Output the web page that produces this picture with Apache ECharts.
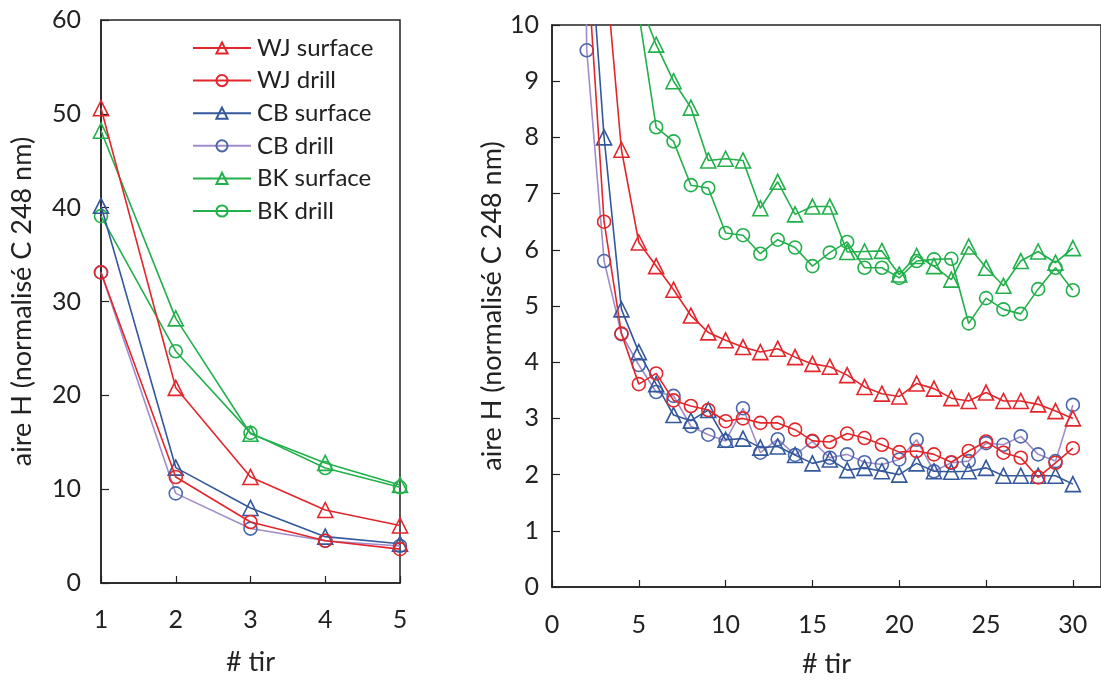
<!DOCTYPE html>
<html>
<head>
<meta charset="utf-8">
<script src="https://cdn.jsdelivr.net/npm/echarts@6/dist/echarts.min.js"></script>
<style>
html,body{margin:0;padding:0;background:#fff;}
#c{width:1101px;height:683px;}
</style>
</head>
<body>
<div id="c"></div>
<script>
// shot number (# tir)
const tirs = [1,2,3,4,5,6,7,8,9,10,11,12,13,14,15,16,17,18,19,20,21,22,23,24,25,26,27,28,29,30];
const seriesNames = ['WJ surface','WJ drill','CB surface','CB drill','BK surface','BK drill'];
const wjSurface = [50.6,20.8,11.3,7.78,6.13,5.71,5.29,4.83,4.53,4.39,4.27,4.18,4.24,4.09,3.97,3.92,3.77,3.56,3.44,3.39,3.62,3.53,3.36,3.31,3.46,3.31,3.31,3.25,3.13,3.0];
const wjDrill = [33.1,11.3,6.5,4.51,3.61,3.8,3.32,3.22,3.15,2.95,3.0,2.92,2.92,2.8,2.6,2.58,2.73,2.65,2.53,2.4,2.42,2.36,2.22,2.42,2.59,2.39,2.3,1.95,2.21,2.47];
const cbSurface = [40.2,12.3,8.0,4.94,4.18,3.61,3.06,2.96,3.15,2.62,2.64,2.48,2.5,2.35,2.2,2.27,2.08,2.12,2.06,2.0,2.2,2.06,2.05,2.06,2.12,1.98,1.98,1.98,1.98,1.83];
const cbDrill = [33.1,9.55,5.8,4.5,3.95,3.47,3.4,2.86,2.71,2.6,3.18,2.39,2.63,2.35,2.59,2.3,2.36,2.22,2.18,2.27,2.62,2.06,2.21,2.24,2.56,2.53,2.68,2.36,2.24,3.24];
const bkSurface = [48.2,28.2,15.9,12.8,10.45,9.65,9.0,8.53,7.59,7.62,7.59,6.74,7.21,6.63,6.77,6.77,5.96,5.97,5.98,5.56,5.89,5.71,5.47,6.06,5.68,5.36,5.8,5.97,5.77,6.03];
const bkDrill = [39.1,24.7,16.0,12.25,10.2,8.18,7.93,7.15,7.1,6.3,6.26,5.93,6.18,6.04,5.71,5.95,6.14,5.68,5.68,5.5,5.8,5.83,5.84,4.69,5.14,4.94,4.86,5.3,5.68,5.28];
const leftXTicks = [1,2,3,4,5];
const leftYTicks = [0,10,20,30,40,50,60];
const rightXTicks = [0,5,10,15,20,25,30];
const rightYTicks = [0,1,2,3,4,5,6,7,8,9,10];

const values = [wjSurface, wjDrill, cbSurface, cbDrill, bkSurface, bkDrill];
const symbols = ['triangle','circle','triangle','circle','triangle','circle'];
const markColors = ['#e3262b','#e3262b','#34589c','#4a67ad','#22b04b','#22b04b'];
const lineColors = ['#e3262b','#e3262b','#34589c','#a08cc8','#22b04b','#22b04b'];

const FONT = 'Lato';
const TXT = '#222';

function mkSeries(idx, gridIdx, n) {
  const data = [];
  for (let i = 0; i < n; i++) data.push([tirs[i], values[idx][i]]);
  return {
    name: seriesNames[idx],
    type: 'line',
    xAxisIndex: gridIdx,
    yAxisIndex: gridIdx,
    data: data,
    symbol: symbols[idx],
    symbolSize: symbols[idx] === 'triangle' ? 15 : 13,
    showAllSymbol: true,
    clip: true,
    animation: false,
    itemStyle: {color: 'rgba(255,255,255,0)', borderColor: markColors[idx], borderWidth: 1.6},
    lineStyle: {color: lineColors[idx], width: 1.6},
    emphasis: {disabled: true},
    z: 10 - idx
  };
}

const series = [];
for (let i = 0; i < 6; i++) series.push(mkSeries(i, 0, 5));
for (let i = 0; i < 6; i++) series.push(mkSeries(i, 1, 30));

function yAxisCfg(gridIdx, min, max, interval, nameGap, labelMargin) {
  return {
    type: 'value', gridIndex: gridIdx, min: min, max: max, interval: interval,
    name: 'aire H (normalisé C 248 nm)', nameLocation: 'middle', nameGap: nameGap,
    nameTextStyle: {fontFamily: FONT, fontSize: 27, color: TXT},
    axisLine: {show: true, lineStyle: {color: '#222', width: 1.5}},
    axisTick: {show: true, inside: true, length: 8, lineStyle: {color: '#222', width: 1.2}},
    axisLabel: {fontFamily: FONT, fontSize: 25, color: TXT, margin: labelMargin},
    splitLine: {show: false}
  };
}
function xAxisCfg(gridIdx, min, max, interval, nameGap, labelMargin, hideMax) {
  return {
    type: 'value', gridIndex: gridIdx, min: min, max: max, interval: interval,
    name: '# tir', nameLocation: 'middle', nameGap: nameGap,
    nameTextStyle: {fontFamily: FONT, fontSize: 27, color: TXT},
    axisLine: {show: true, lineStyle: {color: '#222', width: 1.5}},
    axisTick: {show: true, inside: true, length: 7, lineStyle: {color: '#222', width: 1.2}},
    axisLabel: {fontFamily: FONT, fontSize: 25, color: TXT, margin: labelMargin, showMaxLabel: hideMax ? false : true},
    splitLine: {show: false}
  };
}

const chart = echarts.init(document.getElementById('c'), null, {renderer: 'canvas'});
chart.setOption({
  backgroundColor: '#fff',
  animation: false,
  grid: [
    {left: 101, top: 20, width: 299, height: 563, show: true, borderColor: '#222', borderWidth: 1.5, backgroundColor: 'transparent'},
    {left: 552, top: 25, width: 549, height: 567, show: true, borderColor: '#222', borderWidth: 1.5, backgroundColor: 'transparent'}
  ],
  xAxis: [
    xAxisCfg(0, leftXTicks[0], leftXTicks[leftXTicks.length-1], 1, 66, 24, false),
    xAxisCfg(1, rightXTicks[0], 31.62, 5, 64, 25, true)
  ],
  yAxis: [
    yAxisCfg(0, leftYTicks[0], leftYTicks[leftYTicks.length-1], 10, 65, 20),
    yAxisCfg(1, rightYTicks[0], rightYTicks[rightYTicks.length-1], 1, 32, 13)
  ],
  legend: {
    show: true, orient: 'vertical', left: 192, top: 36, padding: 0,
    itemWidth: 58, itemHeight: 14, itemGap: 8.6,
    data: seriesNames,
    textStyle: {fontFamily: FONT, fontSize: 24, color: TXT, padding: [0,0,0,1]},
    selectedMode: false
  },
  series: series
});
</script>
</body>
</html>
